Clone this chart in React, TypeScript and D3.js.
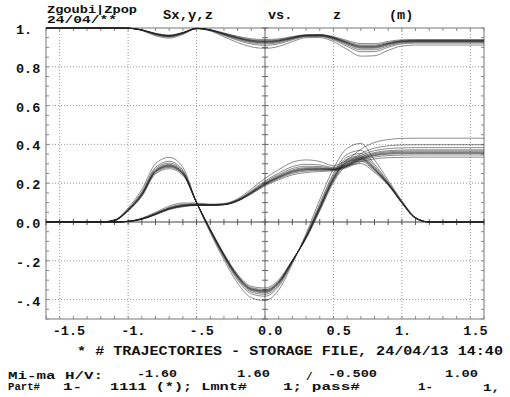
import React from 'react';
import * as d3 from 'd3';

const zKnots = [-1.6, -1.2, -1.1, -1.0, -0.9, -0.8, -0.7, -0.6, -0.5, -0.4, -0.3, -0.2, -0.1, 0, 0.1, 0.2, 0.3, 0.4, 0.5, 0.6, 0.7, 0.8, 0.9, 1.0, 1.1, 1.2, 1.6];

// spin component near 1 : core and outer-trajectory deviation
const sA = [1.0, 1.0, 1.0, 0.999, 0.99, 0.97, 0.96, 0.975, 0.998, 0.99, 0.97, 0.95, 0.935, 0.93, 0.935, 0.95, 0.962, 0.963, 0.95, 0.925, 0.905, 0.905, 0.92, 0.932, 0.934, 0.934, 0.934];
const dA = [0, 0, 0, 0, -0.003, -0.01, -0.012, -0.008, -0.002, -0.005, -0.015, -0.025, -0.032, -0.035, -0.03, -0.02, -0.012, -0.012, -0.02, -0.035, -0.05, -0.048, -0.035, -0.025, -0.022, -0.022, -0.022];

// oscillating component
const sB = [0, 0, 0.008, 0.06, 0.14, 0.26, 0.288, 0.25, 0.1, -0.04, -0.17, -0.28, -0.345, -0.355, -0.31, -0.2, -0.08, 0.07, 0.22, 0.31, 0.325, 0.27, 0.195, 0.1, 0.02, 0, 0];
const dB = [0, 0, 0.003, 0.012, 0.028, 0.04, 0.045, 0.032, 0.0, -0.015, -0.025, -0.035, -0.045, -0.05, -0.04, -0.015, 0.02, 0.045, 0.055, 0.07, 0.08, 0.05, 0.02, 0.01, 0.004, 0, 0];

// slowly rising component
const sC = [0, 0, 0, 0.003, 0.015, 0.04, 0.068, 0.083, 0.088, 0.087, 0.09, 0.11, 0.15, 0.195, 0.23, 0.258, 0.27, 0.272, 0.27, 0.29, 0.325, 0.345, 0.353, 0.356, 0.357, 0.357, 0.357];
const dC = [0, 0, 0, 0.001, 0.005, 0.01, 0.014, 0.015, 0.01, 0.005, 0.005, 0.01, 0.02, 0.03, 0.04, 0.05, 0.05, 0.04, 0.02, 0.03, 0.05, 0.065, 0.072, 0.075, 0.075, 0.075, 0.075];

// where each stored trajectory sits inside the bundle
const trajFactors = [-0.3, -0.15, -0.05, 0, 0.05, 0.12, 0.2, 0.35, 0.55, 1.0];

const xTicks = [-1.5, -1, -0.5, 0, 0.5, 1, 1.5];
const xTickLabels = ['-1.5', '-1.', '-.5', '0.0', '0.5', '1.', '1.5'];
const yTicks = [1, 0.8, 0.6, 0.4, 0.2, 0, -0.2, -0.4];
const yTickLabels = ['1.', '0.8', '0.6', '0.4', '0.2', '0.0', '-.2', '-.4'];

const W = 510;
const H = 397;
const left = 46, right = 484, top = 28, bottom = 319;
const FONT = '"Liberation Mono", "DejaVu Sans Mono", monospace';

const x = d3.scaleLinear().domain([-1.6, 1.6]).range([left, right]);
const y = d3.scaleLinear().domain([-0.5, 1.0]).range([bottom, top]);

const line = d3.line<[number, number]>()
  .x(d => x(d[0]))
  .y(d => y(d[1]))
  .curve(d3.curveMonotoneX);

const families = [[sA, dA], [sB, dB], [sC, dC]];

const T = ({ x, y, s, size = 13, len }: { x: number; y: number; s: string; size?: number; len?: number }) => (
  <text x={x} y={y} fontFamily={FONT} fontWeight="bold" fontSize={size}
    textLength={len} lengthAdjust={len ? 'spacingAndGlyphs' : undefined} fill="#111">{s}</text>
);

export default function App() {
  const gridX = xTicks.filter(v => v !== 0);
  const gridY = yTicks.filter(v => v !== 0 && v !== 1);
  const minorX = d3.range(-16, 17).map(i => i / 10);
  const minorY = d3.range(-10, 21).map(i => i / 20);

  return (
    <svg width={W} height={H} style={{ position: 'absolute', left: 0, top: 0, background: '#fff' }}>
      {/* GRID */}
      {gridX.map(v => (
        <line key={'gx' + v} x1={x(v)} x2={x(v)} y1={top} y2={bottom} stroke="#999" strokeWidth={1} strokeDasharray="1,2" />
      ))}
      {gridY.map(v => (
        <line key={'gy' + v} x1={left} x2={right} y1={y(v)} y2={y(v)} stroke="#999" strokeWidth={1} strokeDasharray="1,2" />
      ))}

      {/* FRAME + minor ticks */}
      <rect x={left} y={top} width={right - left} height={bottom - top} fill="none" stroke="#777" strokeWidth={1} />
      {minorX.map(v => (
        <g key={'mx' + v}>
          <line x1={x(v)} x2={x(v)} y1={top} y2={top + 3} stroke="#888" />
          <line x1={x(v)} x2={x(v)} y1={bottom} y2={bottom - 3} stroke="#888" />
        </g>
      ))}
      {minorY.map(v => (
        <g key={'my' + v}>
          <line x1={left} x2={left + 3} y1={y(v)} y2={y(v)} stroke="#888" />
          <line x1={right} x2={right - 3} y1={y(v)} y2={y(v)} stroke="#888" />
        </g>
      ))}

      {/* AXES through zero */}
      <line x1={left} x2={right} y1={y(0)} y2={y(0)} stroke="#444" strokeWidth={1.2} />
      <line x1={x(0)} x2={x(0)} y1={top} y2={bottom} stroke="#666" strokeWidth={1} />
      {minorX.map(v => (
        <line key={'ax' + v} x1={x(v)} x2={x(v)} y1={y(0) - 3} y2={y(0) + 3} stroke="#555" />
      ))}
      {minorY.map(v => (
        <line key={'ay' + v} x1={x(0) - 3} x2={x(0) + 3} y1={y(v)} y2={y(v)} stroke="#666" />
      ))}

      {/* TRAJECTORIES */}
      {families.map(([mean, dev], fi) =>
        trajFactors.map((k, ti) => {
          const pts = zKnots.map((z, i) => [z, mean[i] + k * dev[i]] as [number, number]);
          return (
            <path key={fi + '-' + ti} d={line(pts) || ''} fill="none" stroke="#222"
              strokeWidth={0.7} strokeOpacity={0.75} />
          );
        })
      )}

      {/* TICK LABELS */}
      {yTicks.map((v, i) => (
        <T key={'yl' + v} x={16} y={y(v) + 6} s={yTickLabels[i]} size={13.5} />
      ))}
      {xTicks.map((v, i) => (
        <T key={'xl' + v} x={x(v) - 7} y={335} s={xTickLabels[i]} size={13.5} />
      ))}

      {/* HEADER */}
      <T x={47} y={13} s="Zgoubi|Zpop" size={10} len={90} />
      <T x={47} y={23} s="24/04/**" size={10} len={70} />
      <T x={163} y={19} s="Sx,y,z" size={13.5} len={50} />
      <T x={268} y={19} s="vs." size={13.5} />
      <T x={333} y={19} s="z" size={13.5} />
      <T x={389} y={19} s="(m)" size={13.5} />

      {/* FOOTER */}
      <T x={77} y={355} s="* # TRAJECTORIES - STORAGE FILE, 24/04/13  14:40" size={13.5} len={426} />
      <T x={8} y={379} s="Mi-ma H/V:" size={10} len={95} />
      <T x={137} y={377} s="-1.60" size={11} len={40} />
      <T x={237} y={377} s="1.60" size={11} len={33} />
      <T x={306} y={380} s="/" size={11} />
      <T x={328} y={377} s="-0.500" size={11} len={49} />
      <T x={445} y={377} s="1.00" size={11} len={33} />
      <T x={8} y={390} s="Part#" size={10} len={32} />
      <T x={63} y={390} s="1-" size={10} len={19} />
      <T x={110} y={390} s="1111 (*); Lmnt#" size={10} len={137} />
      <T x={283} y={390} s="1; pass#" size={10} len={77} />
      <T x={418} y={390} s="1-" size={10} len={15} />
      <T x={483} y={391} s="1," size={10} len={17} />
    </svg>
  );
}
